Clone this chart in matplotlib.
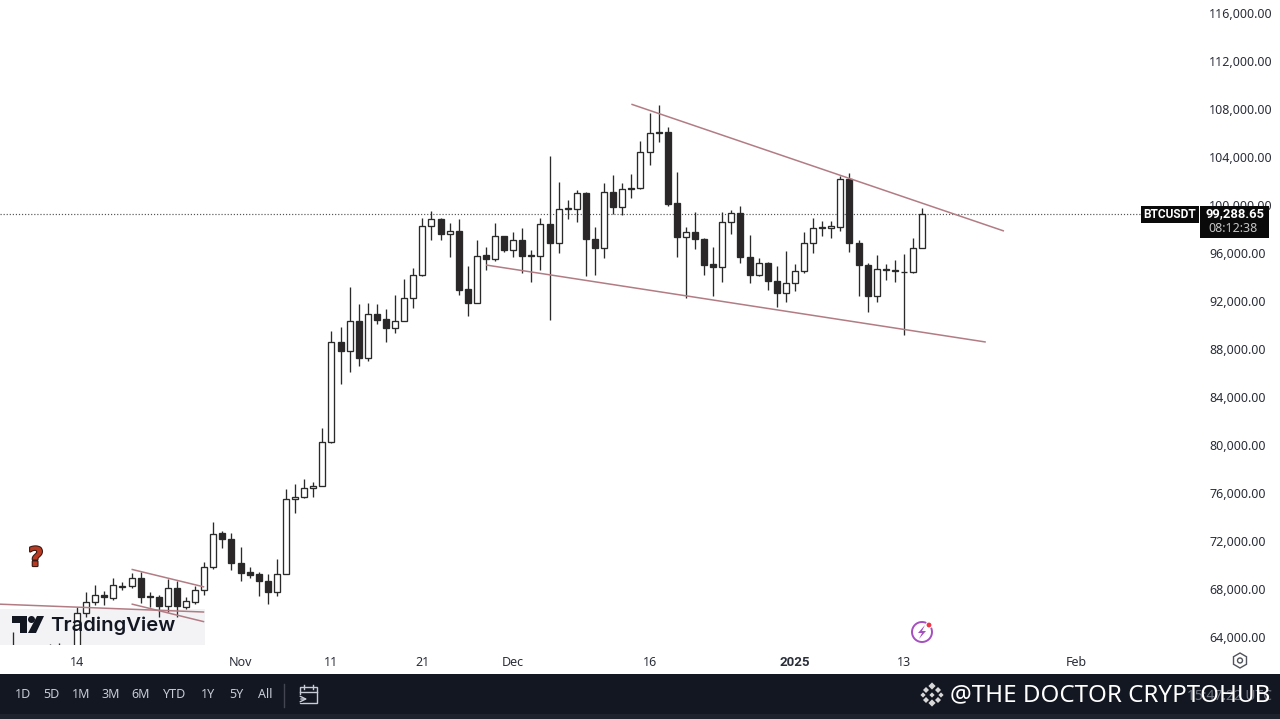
import numpy as np
import pandas as pd
import matplotlib

matplotlib.use("Agg")
import matplotlib.pyplot as plt
import matplotlib.dates as mdates
import matplotlib.patheffects as pe
from matplotlib.patches import Rectangle, Polygon, Circle, RegularPolygon

plt.rcParams["font.family"] = ["Noto Sans", "DejaVu Sans"]

# BTCUSDT daily candles (first week only barely shows)
start_date = "2024-10-07"
opens = [62800, 62200, 62150, 60600, 60300, 62500, 63200, 62800, 66000, 66900,
         67500, 67250, 68200, 68250, 68900, 67400, 67300, 66550, 68050, 66500,
         66950, 67900, 69850, 72700, 72200, 70150, 69400, 69250, 68650, 67750,
         69250, 75500, 75700, 76450, 76600, 80250, 88600, 87850, 90300, 87250,
         90900, 90500, 89750, 90350, 92250, 94200, 98250, 98850, 97550, 97850,
         93000, 91800, 95800, 95500, 97400, 96250, 97100, 95750, 95750, 98450,
         96800, 99650, 99700, 101000, 97150, 96450, 101050, 99850, 101300, 101400,
         104400, 106000, 106100, 100150, 97350, 97750, 97150, 95050, 94800, 98600,
         99350, 95700, 94150, 95200, 93650, 92700, 93500, 94500, 96850, 98100,
         98100, 98200, 102150, 96850, 95000, 92450, 94700, 94500, 94400, 94450,
         96450]
highs = [64450, 63200, 62500, 61300, 63400, 63500, 63300, 66500, 67750, 68300,
         67850, 68950, 68600, 69300, 69450, 67750, 67500, 68800, 68700, 67350,
         68250, 70250, 73600, 72850, 72650, 71500, 69850, 69450, 69250, 70500,
         76300, 76750, 77150, 76950, 81450, 89500, 89850, 93200, 91750, 91800,
         91750, 91300, 92500, 93800, 94750, 98900, 99500, 98900, 98500, 98850,
         94950, 97100, 96500, 98500, 97450, 97750, 98100, 96250, 98950, 104100,
         101900, 100400, 101250, 101100, 98200, 101800, 102500, 101800, 102600, 105300,
         107700, 108300, 106500, 102750, 98200, 99450, 97250, 96500, 99400, 99550,
         99900, 97500, 95600, 95250, 94900, 96200, 95100, 97750, 98900, 98650,
         98650, 102450, 102650, 97100, 95200, 95800, 95050, 95400, 95900, 97250,
         99750]
lows = [62000, 61800, 60300, 58900, 60000, 62400, 62000, 62600, 65650, 66650,
        66650, 67050, 67900, 68100, 66800, 66500, 65650, 66100, 65650, 66350,
        66750, 67500, 69650, 71400, 69600, 68700, 68900, 67400, 66750, 67400,
        69250, 74350, 75550, 75700, 76550, 80200, 85050, 86050, 86600, 87000,
        90050, 88600, 89300, 90300, 91450, 94050, 97050, 97050, 95650, 92500,
        90750, 91800, 94550, 95350, 96050, 95650, 94350, 93600, 94600, 90400,
        96000, 98800, 98600, 94100, 94150, 95600, 99250, 99150, 100600, 101300,
        103300, 105250, 99950, 95650, 92250, 96300, 94150, 92400, 93600, 97550,
        95200, 93500, 94050, 92900, 91500, 91950, 92850, 94350, 96000, 97400,
        97250, 97850, 96100, 92450, 91100, 91950, 93750, 93600, 89150, 94350,
        96400]
closes = [62200, 62150, 60600, 60300, 62500, 63200, 62800, 66000, 66900, 67500,
          67300, 68300, 68250, 68900, 67300, 67350, 66550, 68050, 66550, 67000,
          67900, 69850, 72600, 72200, 70150, 69350, 69200, 68650, 67750, 69250,
          75500, 75700, 76400, 76600, 80250, 88600, 87850, 90300, 87250, 90950,
          90400, 89750, 90350, 92250, 94200, 98250, 98850, 97550, 97850, 92950,
          91800, 95750, 95500, 97400, 96250, 97100, 95750, 95800, 98450, 96800,
          99650, 99750, 101000, 97150, 96450, 101050, 99850, 101300, 101400, 104400,
          106000, 106100, 100100, 97350, 97750, 97150, 95000, 94800, 98600, 99350,
          95650, 94150, 95200, 93650, 92700, 93500, 94500, 96850, 98100, 98150,
          98250, 102150, 96850, 95000, 92450, 94650, 94550, 94550, 94450, 96450,
          99288.65]

# price scale and time scale labels
price_ticks = np.arange(64000, 116001, 4000)
time_tick_dates = ["2024-10-14", "2024-11-01", "2024-11-11", "2024-11-21", "2024-12-01",
                   "2024-12-16", "2025-01-01", "2025-01-13", "2025-02-01"]
time_tick_labels = ["14", "Nov", "11", "21", "Dec", "16", "2025", "13", "Feb"]

# drawn trend lines: (date, price) ends
upper_line = (["2024-12-14", "2025-01-24"], [108400, 97830])
lower_line = (["2024-11-28", "2025-01-22"], [95000, 88580])
old_line = (["2024-10-05", "2024-10-28"], [66750, 66080])
small_top = (["2024-10-20", "2024-10-28"], [69640, 68170])
small_bottom = (["2024-10-20", "2024-10-28"], [66750, 65270])

range_buttons = ["1D", "5D", "1M", "3M", "6M", "YTD", "1Y", "5Y", "All"]
button_x = [23, 51, 81, 111, 141, 175, 208, 236, 265]

W, H = 1280, 719
fig = plt.figure(figsize=(W / 100, H / 100), dpi=100, facecolor="white")

# main chart, pixel box 0..1205 x 0..645
ax = fig.add_axes([0, (H - 645) / H, 1205 / W, 645 / H])
for s in ax.spines.values():
    s.set_visible(False)

dates = pd.date_range(start_date, periods=len(opens))
x = mdates.date2num(dates)
x0 = mdates.date2num(pd.Timestamp("2024-10-14"))
per_day = 9.088
ax.set_xlim(x0 - 77 / per_day, x0 + (1205 - 77) / per_day)
ax.set_ylim(64000 - 8 * 1000 / 12, 64000 + 637 * 1000 / 12)

# grey plate behind the logo
ax.add_patch(Rectangle((0, 0), 205 / 1205, 36 / 645, transform=ax.transAxes,
                       color="#f3f3f6", lw=0, zorder=0))

o = np.array(opens)
c = np.array(closes)
ax.vlines(x, lows, highs, color="#2a2a2a", lw=0.95, zorder=2)
up = c >= o
ax.bar(x, np.abs(c - o), bottom=np.minimum(o, c), width=0.66,
       color=["white" if u else "#2b2728" for u in up],
       edgecolor="#2a2a2a", linewidth=0.95, zorder=3)

for line in [upper_line, lower_line, old_line, small_top, small_bottom]:
    ax.plot(pd.to_datetime(line[0]), line[1], color="#b27c84", lw=1.1, zorder=4,
            solid_capstyle="butt")

ax.axhline(closes[-1], color="#555555", lw=0.85, ls=(0, (1, 1.6)), zorder=1)

ax.set_yticks(price_ticks)
ax.set_yticklabels([f"{p:,.2f}" for p in price_ticks])
ax.yaxis.tick_right()
ax.tick_params(axis="y", length=0, pad=3, labelsize=9, labelcolor="#2a2e39")
ax.set_xticks(mdates.date2num(pd.to_datetime(time_tick_dates)))
ax.set_xticklabels(time_tick_labels)
ax.tick_params(axis="x", length=0, pad=8, labelsize=9, labelcolor="#2a2e39")
for t in ax.get_xticklabels():
    if t.get_text() == "2025":
        t.set_family("Roboto")
        t.set_fontweight("bold")
        t.set_fontsize(9.5)

# overlay in picture pixels for the interface bits
ov = fig.add_axes([0, 0, 1, 1])
ov.set_xlim(0, W)
ov.set_ylim(H, 0)
ov.axis("off")

# bottom toolbar
ov.add_patch(Rectangle((0, 674), W, 45, color="#131722", lw=0))
ov.add_patch(Rectangle((0, 714), W, 5, color="#1e222d", lw=0))
for label, bx in zip(range_buttons, button_x):
    ov.text(bx, 695, label, color="#c8ccd6", fontsize=9, ha="center", va="center")
ov.plot([284, 284], [684, 707], color="#434651", lw=1)
ov.add_patch(Rectangle((300, 687), 17, 16, fill=False, ec="#c8ccd6", lw=1))
ov.plot([304, 304], [685, 689], color="#c8ccd6", lw=1)
ov.plot([313, 313], [685, 689], color="#c8ccd6", lw=1)
ov.plot([300, 317], [692, 692], color="#c8ccd6", lw=1)
ov.add_patch(Rectangle((298, 695), 5, 8, color="#131722", lw=0))
ov.annotate("", xy=(310, 699), xytext=(298, 699),
            arrowprops=dict(arrowstyle="->", color="#c8ccd6", lw=1))

# clock under the watermark, then the watermark
ov.text(1272, 697, "15:47:22 UTC", color="#6f7480", fontsize=10, ha="right", va="center")
ov.text(950, 695, "@THE DOCTOR CRYPTOHUB", color="white", fontsize=17.4, ha="left", va="center")
for cx, cy, r in [(932, 686, 3.6), (932, 703, 3.6), (923, 695, 2.6), (941, 695, 2.6), (932, 695, 2.6)]:
    ov.add_patch(RegularPolygon((cx, cy), 4, radius=r, color="#d8d8d8", lw=0))
for cx, cy in [(926, 690), (938, 690), (926, 700), (938, 700)]:
    ov.add_patch(RegularPolygon((cx, cy), 4, radius=3, color="#d8d8d8", lw=0))

# symbol and price tags
ov.add_patch(Rectangle((1141, 206), 58, 17, color="#0a0a0a", lw=0))
ov.text(1170, 214.5, "BTCUSDT", color="white", fontsize=8.6, ha="center", va="center",
        family="Roboto", fontweight="bold")
ov.add_patch(Rectangle((1200, 206), 69, 32, color="#0a0a0a", lw=0))
ov.text(1235, 214, "99,288.65", color="white", fontsize=9.4, ha="center", va="center",
        family="Roboto", fontweight="bold")
ov.text(1233, 228, "08:12:38", color="#c4c4c4", fontsize=9, ha="center", va="center")

# gear at the corner of the scales
ov.add_patch(RegularPolygon((1240, 660.5), 6, radius=7.5, fill=False, ec="#50535c", lw=1))
ov.add_patch(Circle((1240, 660.5), 2.5, fill=False, ec="#50535c", lw=1))

# logo
ov.add_patch(Polygon([(12, 616), (27, 616), (27, 633), (20, 633), (20, 623), (12, 623)], color="#131722", lw=0))
ov.add_patch(Circle((31.5, 619.5), 3.5, color="#131722", lw=0))
ov.add_patch(Polygon([(37, 616), (44, 616), (36, 633), (28, 633)], color="#131722", lw=0))
ov.text(50, 626, "TradingView", color="#131722", fontsize=14.6, ha="left", va="center",
        family="Inter", fontweight="semibold")

# question mark and purple badge
ov.text(36, 559, "?", color="#b83a22", fontsize=19, ha="center", va="center", fontweight="bold",
        family="DejaVu Sans", path_effects=[pe.withStroke(linewidth=1.6, foreground="#3a1a14")])
ov.add_patch(Circle((922, 632), 10, fill=False, ec="#a64fc0", lw=1.4))
ov.add_patch(Polygon([(925, 625), (918, 633), (922, 633), (919, 639), (926, 631), (922, 631)],
                     color="#a64fc0", lw=0))
ov.add_patch(Circle((929, 625), 3, color="#f23645", ec="white", lw=0.8))

fig.savefig("out.png", dpi=100, facecolor="white")
